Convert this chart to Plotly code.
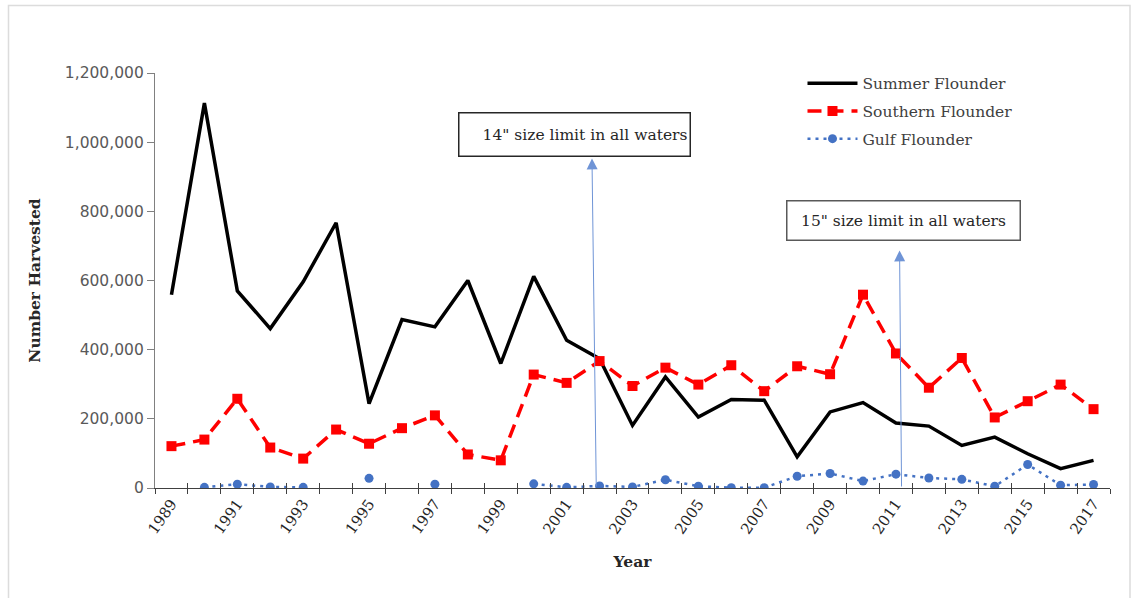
import plotly.graph_objects as go

years = list(range(1989, 2018))
summer = [559000, 1113000, 570000, 461000, 596000, 767000, 244000, 487000, 466000, 600000,
          360000, 612000, 427000, 374000, 181000, 321000, 205000, 256000, 254000, 90000,
          220000, 247000, 188000, 179000, 123000, 147000, 99000, 56000, 80000]
southern = [121000, 140000, 258000, 117000, 85000, 169000, 128000, 173000, 210000, 97000,
            80000, 328000, 304000, 367000, 295000, 348000, 299000, 355000, 280000, 352000,
            329000, 559000, 389000, 290000, 376000, 204000, 251000, 299000, 228000]
gulf = [None, 2000, 11000, 3000, 2000, None, 28000, None, 11000, None,
        None, 12000, 2000, 6000, 3000, 24000, 5000, 1000, 1000, 34000,
        42000, 20000, 40000, 29000, 25000, 5000, 68000, 8000, 10000]
tick_years = list(range(1989, 2018, 2))
y_ticks = list(range(0, 1200001, 200000))

serif = "DejaVu Serif"

fig = go.Figure()
fig.add_trace(go.Scatter(x=years, y=summer, name="Summer Flounder", mode="lines",
                         legendgroup="a",
                         line=dict(color="black", width=3.5)))
fig.add_trace(go.Scatter(x=years, y=southern, name="Southern Flounder", mode="lines+markers",
                         legendgroup="b",
                         line=dict(color="#ff0000", width=3.5, dash="14px,8px"),
                         marker=dict(symbol="square", size=10, color="#ff0000")))
fig.add_trace(go.Scatter(x=years, y=gulf, name="Gulf Flounder", mode="lines+markers",
                         legendgroup="c", connectgaps=False,
                         line=dict(color="#4472c4", width=2.5, dash="3px,5px"),
                         marker=dict(symbol="circle", size=9, color="#4472c4")))
fig.add_trace(go.Scatter(x=[], y=[], xaxis="x2", showlegend=False, hoverinfo="skip"))

xr = [1988.5, 2017.5]
fig.update_layout(
    width=1134, height=598,
    margin=dict(l=155, r=24, t=73, b=110, autoexpand=False),
    paper_bgcolor="white", plot_bgcolor="white",
    showlegend=True,
    legend=dict(x=0.678, y=1.015, xanchor="left", yanchor="top",
                font=dict(family=serif, size=15.5, color="#404040"),
                bgcolor="rgba(0,0,0,0)", tracegroupgap=4.5, itemwidth=50),
    xaxis=dict(range=xr, tickmode="array", tickvals=tick_years,
               ticktext=[str(y) for y in tick_years], ticks="", tickangle=-55,
               tickfont=dict(family=serif, size=15, color="#262626"),
               showline=True, linecolor="#404040", linewidth=1.3, showgrid=False,
               zeroline=False,
               minor=dict(ticks="outside", tick0=1988.5, dtick=1, ticklen=5,
                          tickcolor="#404040", tickwidth=1.3, showgrid=False),
               title=dict(text="<b>Year</b>", font=dict(family=serif, size=15.5, color="#262626"),
                          standoff=19)),
    xaxis2=dict(range=xr, overlaying="x", anchor="y", side="bottom",
                tickmode="linear", tick0=1988.5, dtick=1, ticks="inside", ticklen=5,
                tickcolor="#404040", tickwidth=1.3, showticklabels=False,
                showgrid=False, zeroline=False, showline=False),
    yaxis=dict(range=[0, 1200000], tickmode="array", tickvals=y_ticks,
               tickformat=",", ticksuffix=" ", ticks="outside", ticklen=7, tickcolor="#808080",
               tickwidth=1.3, showline=True, linecolor="#808080", linewidth=1.3,
               showgrid=False, zeroline=False,
               tickfont=dict(family="DejaVu Sans", size=15.5, color="#595959"),
               title=dict(text="<b>Number Harvested</b>",
                          font=dict(family=serif, size=15.5, color="#262626"),
                          standoff=20)),
)

# annotation boxes
fig.add_annotation(xref="paper", yref="paper", x=0.439, y=0.852, xanchor="center",
                   yanchor="middle", text='14" size limit in all waters', showarrow=False,
                   font=dict(family=serif, size=15.5, color="#262626"),
                   width=226, height=38, align="right", bordercolor="#262626",
                   borderwidth=1.5, borderpad=2, bgcolor="white")
fig.add_annotation(xref="paper", yref="paper", x=0.784, y=0.645, xanchor="center",
                   yanchor="middle", text='15" size limit in all waters', showarrow=False,
                   font=dict(family=serif, size=15.5, color="#262626"),
                   width=228, height=34, align="center", bordercolor="#595959",
                   borderwidth=1.5, borderpad=2, bgcolor="white")
# arrows
fig.add_annotation(x=2001.77, y=953000, ax=2001.9, ay=0, axref="x", ayref="y",
                   xref="x", yref="y", text="", showarrow=True, arrowhead=2,
                   arrowsize=2.2, arrowwidth=1, arrowcolor="#6f94d6", standoff=0)
fig.add_annotation(x=2011.11, y=687000, ax=2011.17, ay=0, axref="x", ayref="y",
                   xref="x", yref="y", text="", showarrow=True, arrowhead=2,
                   arrowsize=2.2, arrowwidth=1, arrowcolor="#6f94d6", standoff=0)

# outer frame
fig.add_shape(type="rect", xref="paper", yref="paper",
              x0=(8.5 - 155) / 955, x1=(1130 - 155) / 955,
              y0=(488 - 605) / 415, y1=(488 - 5.5) / 415,
              line=dict(color="#dcdcdc", width=1.5), fillcolor="rgba(0,0,0,0)", layer="below")

fig.write_html("out.html", config={"displayModeBar": False},
               post_script="document.body.style.margin='0px';document.body.style.overflow='hidden';")
